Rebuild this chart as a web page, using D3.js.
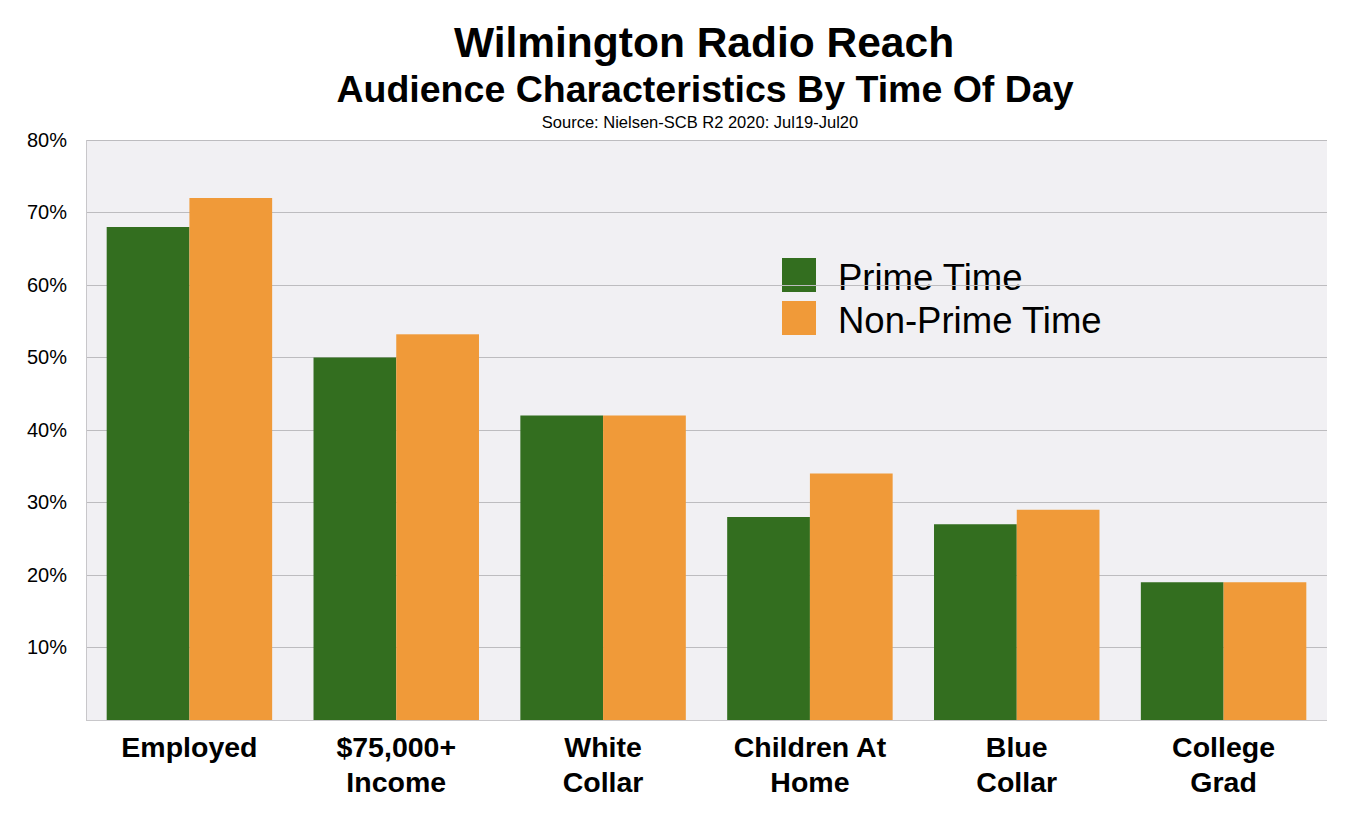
<!DOCTYPE html>
<html><head><meta charset="utf-8">
<script src="https://cdn.jsdelivr.net/npm/d3@7"></script>
<style>body{margin:0;background:#fff}svg{display:block}text{font-family:"Liberation Sans",Arial,Helvetica,sans-serif}</style>
</head><body><svg id="c" width="1358" height="824"></svg>
<script>
const categories = [["Employed"],["$75,000+","Income"],["White","Collar"],["Children At","Home"],["Blue","Collar"],["College","Grad"]];
const series = ["Prime Time","Non-Prime Time"];
const primeTime = [68, 50, 42, 28, 27, 19];
const nonPrimeTime = [72, 53.2, 42, 34, 29, 19];
const yTicks = [10,20,30,40,50,60,70,80];
const colors = ["#336e1f","#f09a39"];

const svg = d3.select("#c");
const m = {l:86, r:1327, t:140, b:720};
const x0 = d3.scaleBand().domain(d3.range(categories.length)).range([m.l, m.r]).paddingInner(0.2).paddingOuter(0.1);
const x1 = d3.scaleBand().domain([0,1]).range([0, x0.bandwidth()]);
const y = d3.scaleLinear().domain([0,80]).range([m.b, m.t]);

svg.append("rect").attr("x",m.l).attr("y",m.t).attr("width",m.r-m.l).attr("height",m.b-m.t).attr("fill","#f1f0f3");

// legend (under gridlines)
const lg = svg.append("g");
series.forEach((s,i)=>{
  lg.append("rect").attr("x",782).attr("y",258+i*43).attr("width",34).attr("height",34).attr("fill",colors[i]);
  lg.append("text").attr("x",838).attr("y",290+i*43).attr("font-size",36.5).attr("fill","#000").text(s);
});

// gridlines
svg.append("g").selectAll("line").data(yTicks).join("line")
  .attr("x1",m.l).attr("x2",m.r).attr("y1",d=>y(d)).attr("y2",d=>y(d))
  .attr("stroke","#bdbcbf").attr("stroke-width",1).attr("shape-rendering","crispEdges");

// bars
const vals = [primeTime, nonPrimeTime];
const g = svg.append("g");
categories.forEach((c,i)=>{
  vals.forEach((v,j)=>{
    g.append("rect").attr("x",x0(i)+x1(j)).attr("y",y(v[i])).attr("width",x1.bandwidth()).attr("height",y(0)-y(v[i])).attr("fill",colors[j]);
  });
});

// axes lines
svg.append("line").attr("x1",m.l+0.5).attr("x2",m.l+0.5).attr("y1",m.t).attr("y2",m.b).attr("stroke","#c8c7ca");
svg.append("line").attr("x1",m.l).attr("x2",m.r).attr("y1",m.b+0.5).attr("y2",m.b+0.5).attr("stroke","#c8c7ca");

// y labels
const yAxis = d3.axisLeft(y).tickValues(yTicks).tickFormat(d=>d+"%").tickSize(0).tickPadding(19);
const ya = svg.append("g").attr("transform",`translate(${m.l},0)`).call(yAxis);
ya.select(".domain").remove();
ya.selectAll("text").attr("font-size",20).attr("fill","#000").attr("font-family","'Liberation Sans',Arial,sans-serif");

// x labels
categories.forEach((c,i)=>{
  const cx = x0(i)+x0.bandwidth()/2;
  const t = svg.append("text").attr("x",cx).attr("y",757).attr("text-anchor","middle").attr("font-size",28.5).attr("font-weight","bold").attr("fill","#000");
  c.forEach((line,k)=>t.append("tspan").attr("x",cx).attr("dy",k?35:0).text(line));
});

// titles
svg.append("text").attr("x",704).attr("y",57).attr("text-anchor","middle").attr("font-size",42.5).attr("font-weight","bold").text("Wilmington Radio Reach");
svg.append("text").attr("x",705).attr("y",102).attr("text-anchor","middle").attr("font-size",37.5).attr("font-weight","bold").text("Audience Characteristics By Time Of Day");
svg.append("text").attr("x",700).attr("y",128).attr("text-anchor","middle").attr("font-size",16.5).text("Source: Nielsen-SCB R2 2020: Jul19-Jul20");
</script></body></html>
